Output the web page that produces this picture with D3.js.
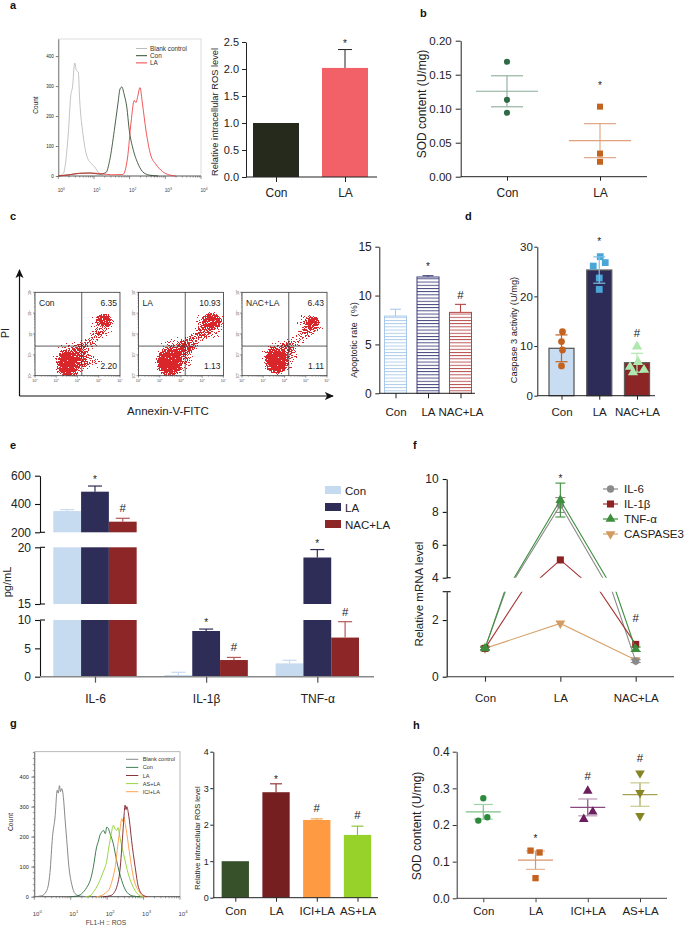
<!DOCTYPE html>
<html><head><meta charset="utf-8">
<script src="https://cdn.jsdelivr.net/npm/d3@7"></script>
<style>
body{margin:0;background:#fff;}
svg{display:block;}
</style></head><body>
<svg id="fig" width="685" height="928"></svg>
<script>
// ================= DATA =================
// Panel a: flow histogram [log10 intensity, count]
const aHistBlank = [[0,0],[0.14,8],[0.28,141],[0.35,269],[0.40,298],[0.46,377],[0.51,352],[0.56,347],[0.60,252],[0.69,141],[0.81,63],[0.93,41],[1.02,30],[1.16,8],[1.35,2],[1.6,0]];
const aHistCon = [[0,0],[0.3,4],[0.6,9],[0.9,10],[1.16,6],[1.34,12],[1.44,52],[1.57,152],[1.67,240],[1.73,290],[1.78,297],[1.85,270],[1.92,230],[1.99,152],[2.08,97],[2.22,45],[2.36,15],[2.55,3],[2.8,0]];
const aHistLA = [[0,0],[0.3,4],[0.6,9],[0.9,10],[1.2,8],[1.5,4],[1.81,5],[1.94,60],[2.04,180],[2.13,252],[2.18,245],[2.22,262],[2.29,295],[2.36,240],[2.46,150],[2.59,70],[2.73,40],[2.92,15],[3.10,4],[3.29,0]];
const aLegend = ["Blank control","Con","LA"];
const aGroups = ["Con","LA"];
const aROS = [1.0, 2.02];
const aROSErr = [0, 0.34];
const aMarks = ["", "*"];
// Panel b
const bGroups = ["Con","LA"];
const bPoints = [[0.169,0.113,0.094],[0.103,0.034,0.022]];
const bMean = [0.1256, 0.053];
const bSEM = [0.0228, 0.025];
const bMarks = ["", "*"];
// Panel c: dot plots
const cSamples = ["Con","LA","NAC+LA"];
const cUpperRight = ["6.35","10.93","6.43"];
const cLowerRight = ["2.20","1.13","1.11"];
const cGate = [2.2, 1.42];
// cluster: [sample, xLog, yLog, rxLog, ryLog, angle, density]
const cClusters = [
  [0,1.55,0.55,0.62,0.78,0,1.0],[0,1.75,0.85,1.0,1.0,0,0.5],[0,3.25,2.65,0.42,0.38,0,0.85],[0,3.15,2.45,0.75,0.7,0,0.45],[0,2.45,1.5,1.35,0.4,-40,0.5],[0,2.6,0.7,0.7,0.4,0,0.45],
  [1,1.45,0.6,0.68,0.8,0,1.0],[1,1.75,0.95,1.1,1.0,-30,0.55],[1,3.45,2.6,0.5,0.45,0,0.92],[1,3.35,2.45,0.85,0.8,0,0.5],[1,2.5,1.6,1.45,0.45,-40,0.58],
  [2,1.6,0.7,0.62,0.75,0,1.0],[2,1.8,0.95,1.0,0.95,0,0.5],[2,3.3,2.55,0.4,0.35,0,0.8],[2,3.2,2.45,0.72,0.65,0,0.45],[2,2.5,1.6,1.35,0.4,-40,0.46]
];
const cRate = [7.9, 11.9, 8.28];
const cRateErr = [0.7, 0.13, 0.82];
const cMarks = ["", "*", "#"];
// Panel d
const dGroups = ["Con","LA","NAC+LA"];
const dMean = [9.54, 25.3, 6.64];
const dErr = [2.7, 2.65, 1.9];
const dPoints = [[12.9,10.9,9.2,6.0],[28.0,26.8,26.1,23.7,21.4],[9.9,6.8,5.8,5.2,4.7]];
const dMarks = ["", "*", "#"];
// Panel e
const eCytokines = ["IL-6","IL-1β","TNF-α"];
const eGroups = ["Con","LA","NAC+LA"];
const eValues = [[350,487,275],[0.3,8.06,2.94],[2.35,19.1,6.9]];
const eErr = [[10,40,24],[0.48,0.34,0.46],[0.55,0.7,2.8]];
const eMarks = [["","*","#"],["","*","#"],["","*","#"]];
const eBreaks = [[0,10],[15,20],[200,600]];
const eTicks = [[0,5,10],[15,20],[200,400,600]];
// Panel f
const fGroups = ["Con","LA","NAC+LA"];
const fSeries = ["IL-6","IL-1β","TNF-α","CASPASE3"];
const fIL6 = [1.0, 8.42, 0.55];
const fIL1b = [1.0, 5.08, 1.14];
const fTNFa = [1.0, 8.72, 0.97];
const fCasp3 = [1.0, 1.88, 0.59];
const fIL6Err = [0.04, 0.45, 0.05];
const fTNFaErr = [0.05, 1.03, 0.08];
const fBreaks = [[0,3],[4,10]];
// Panel g
const gHistBlank = [[0,0],[0.2,3],[0.34,20],[0.43,80],[0.5,200],[0.57,265],[0.63,355],[0.66,345],[0.69,370],[0.72,350],[0.75,360],[0.8,330],[0.84,265],[0.89,190],[0.95,100],[1.03,40],[1.12,10],[1.26,2],[1.5,0]];
const gHistCon = [[1.0,0],[1.16,2],[1.3,10],[1.44,31],[1.55,60],[1.62,98],[1.71,165],[1.76,185],[1.8,204],[1.85,215],[1.9,221],[1.95,210],[1.99,232],[2.04,225],[2.08,210],[2.17,176],[2.26,120],[2.4,54],[2.54,15],[2.72,2],[2.9,0]];
const gHistLA = [[1.9,0],[2.08,3],[2.2,15],[2.26,31],[2.35,87],[2.43,210],[2.47,280],[2.49,305],[2.52,290],[2.54,300],[2.58,280],[2.61,255],[2.67,188],[2.77,98],[2.86,31],[2.99,5],[3.1,0]];
const gHistAS = [[1.4,0],[1.53,3],[1.65,20],[1.8,54],[1.9,85],[1.99,120],[2.04,160],[2.08,188],[2.12,215],[2.17,238],[2.22,225],[2.26,221],[2.3,230],[2.35,198],[2.45,143],[2.58,76],[2.72,31],[2.9,3],[3.0,0]];
const gHistICI = [[1.7,0],[1.8,2],[1.95,12],[2.08,31],[2.15,60],[2.22,98],[2.31,188],[2.36,230],[2.4,260],[2.43,250],[2.46,266],[2.5,240],[2.54,210],[2.63,132],[2.72,65],[2.86,20],[2.99,2],[3.1,0]];
const gLegend = ["Blank control","Con","LA","AS+LA","ICI+LA"];
const gGroups = ["Con","LA","ICI+LA","AS+LA"];
const gROS = [1.0, 2.89, 2.13, 1.72];
const gROSErr = [0, 0.23, 0.03, 0.24];
const gMarks = ["", "*", "#", "#"];
// Panel h
const hGroups = ["Con","LA","ICI+LA","AS+LA"];
const hPoints = [[0.273,0.212,0.221],[0.13,0.125,0.055],[0.293,0.236,0.216],[0.341,0.288,0.225]];
const hMean = [0.236,0.104,0.248,0.283];
const hSEM = [0.02,0.025,0.023,0.032];
const hMarks = ["", "*", "#", "#"];

// ================= HELPERS =================
const FONT = '"Liberation Sans", Arial, Helvetica, sans-serif';
const svg = d3.select('#fig').attr('font-family', FONT);
const defs = svg.append('defs');

function styleAxis(a, fs, color, sw) {
  a.attr('font-family', FONT).attr('font-size', fs);
  a.selectAll('path.domain').attr('stroke', color).attr('stroke-width', sw);
  a.selectAll('.tick line').attr('stroke', color).attr('stroke-width', sw);
  a.selectAll('.tick text').attr('fill', '#222');
  return a;
}
function yAxis(g, scale, x, vals, fmt, fs, ts, pad, color = '#222', sw = 1) {
  const a = g.append('g').attr('transform', `translate(${x},0)`)
    .call(d3.axisLeft(scale).tickValues(vals).tickFormat(fmt).tickSize(ts).tickSizeOuter(0).tickPadding(pad));
  return styleAxis(a, fs, color, sw);
}
function xAxis(g, scale, y, x0, x1, fs, ts, pad, color = '#222', sw = 1) {
  g.append('line').attr('x1', x0).attr('x2', x1).attr('y1', y).attr('y2', y).attr('stroke', color).attr('stroke-width', sw);
  const a = g.append('g').attr('transform', `translate(0,${y})`)
    .call(d3.axisBottom(scale).tickSize(ts).tickSizeOuter(0).tickPadding(pad));
  a.select('path.domain').remove();
  return styleAxis(a, fs, color, sw);
}
function text(g, x, y, s, fs, o = {}) {
  const t = g.append('text').attr('x', x).attr('y', y).attr('font-size', fs)
    .attr('fill', o.fill || '#222').attr('text-anchor', o.anchor || 'start').text(s);
  if (o.bold) t.attr('font-weight', 'bold');
  if (o.rot) t.attr('transform', `rotate(${o.rot},${x},${y})`);
  return t;
}
function ylabel(g, x, y, s, fs) { return text(g, x, y, s, fs, {anchor: 'middle', rot: -90}); }
function sym(g, type, x, y, size, fill, rot) {
  return g.append('path').attr('d', d3.symbol().type(type).size(size)()).attr('fill', fill)
    .attr('transform', `translate(${x},${y})` + (rot ? ` rotate(${rot})` : ''));
}
function vline(g, x, y1, y2, color, sw) {
  g.append('line').attr('x1', x).attr('x2', x).attr('y1', y1).attr('y2', y2).attr('stroke', color).attr('stroke-width', sw);
}
function hline(g, x1, x2, y, color, sw) {
  g.append('line').attr('x1', x1).attr('x2', x2).attr('y1', y).attr('y2', y).attr('stroke', color).attr('stroke-width', sw);
}
function powLabel(g, x, y, e, fs, rot) {
  const t = g.append('text').attr('x', x).attr('y', y).attr('font-size', fs).attr('fill', '#444').attr('text-anchor', 'middle');
  t.append('tspan').text('10');
  t.append('tspan').attr('dy', -fs * 0.45).attr('font-size', fs * 0.7).text(e);
  if (rot) t.attr('transform', `rotate(${rot},${x},${y})`);
}
function logTicks(g, scale, fixed, horizontal, majorLen, minorLen, color) {
  for (let d = 0; d <= 4; d++) {
    const p = scale(d);
    if (horizontal) vline(g, p, fixed, fixed + majorLen, color, 0.6); else hline(g, fixed - majorLen, fixed, p, color, 0.6);
    if (d < 4) for (let k = 2; k <= 9; k++) {
      const q = scale(d + Math.log10(k));
      if (horizontal) vline(g, q, fixed, fixed + minorLen, color, 0.5); else hline(g, fixed - minorLen, fixed, q, color, 0.5);
    }
  }
}
function mark(g, x, y, s) {
  if (s === '*') text(g, x, y, '*', 10, {anchor: 'middle'});
  else if (s === '#') text(g, x, y, '#', 11.5, {anchor: 'middle'});
}
const histLine = (x, y) => d3.line().x(d => x(d[0])).y(d => y(d[1])).curve(d3.curveMonotoneX);

// panel letters
[['a',10,9],['b',420,17],['c',10,220],['d',465,220],['e',10,449],['f',413,449],['g',10,727],['h',413,729]]
  .forEach(([s,x,y]) => text(svg, x, y, s, 11, {bold: true, fill: '#111'}));

// ================= PANEL a =================
{
  const g = svg.append('g');
  const x = d3.scaleLinear().domain([0,4]).range([58.3, 201]);
  const y = d3.scaleLinear().domain([0,457]).range([176, 39]);
  g.append('rect').attr('x',58.3).attr('y',39).attr('width',142.7).attr('height',137).attr('fill','none').attr('stroke','#cfcfcf').attr('stroke-width',0.7);
  yAxis(g, y, 58.3, [0,100,200,300,400], d3.format('d'), 4.5, 2.5, 2, '#444', 0.7);
  hline(g, 58.3, 201, 176, '#444', 0.8);
  logTicks(g, x, 176, true, 3, 1.6, '#444');
  for (let d = 0; d <= 4; d++) powLabel(g, x(d) + 3, 192, String(d), 4.8);
  ylabel(g, 38, 105, 'Count', 6.5);
  const cols = ['#b4b4b4', '#1e3a1e', '#ee2e2e'];
  [aHistBlank, aHistCon, aHistLA].forEach((h, i) =>
    g.append('path').attr('d', histLine(x, y)(h)).attr('fill','none').attr('stroke', cols[i]).attr('stroke-width', 0.8));
  aLegend.forEach((s, i) => {
    hline(g, 136, 147, 48.5 + i * 7.2, cols[i], 0.9);
    text(g, 150, 50.7 + i * 7.2, s, 6.4, {fill: '#333'});
  });
  // bar chart
  const yb = d3.scaleLinear().domain([0, 2.5]).range([177, 42]);
  const xb = d3.scalePoint().domain(aGroups).range([276, 345]);
  yAxis(g, yb, 246, [0,0.5,1,1.5,2,2.5], d3.format('.1f'), 11, 4, 3);
  ylabel(g, 218, 112, 'Relative intracellular ROS level', 9.3);
  const bc = ['#262a1c', '#f26168'];
  aGroups.forEach((k, i) => {
    g.append('rect').attr('x', xb(k) - 23).attr('width', 46).attr('y', yb(aROS[i])).attr('height', 177 - yb(aROS[i])).attr('fill', bc[i]);
    if (aROSErr[i] > 0) {
      vline(g, xb(k), yb(aROS[i]), yb(aROS[i] + aROSErr[i]), '#222', 1);
      hline(g, xb(k) - 7, xb(k) + 7, yb(aROS[i] + aROSErr[i]), '#222', 1);
    }
    mark(g, xb(k), yb(aROS[i] + aROSErr[i]) - 3, aMarks[i]);
  });
  xAxis(g, xb, 177, 246, 377, 12, 5, 6.5);
}

// ================= PANEL b =================
{
  const g = svg.append('g');
  const y = d3.scaleLinear().domain([0, 0.2]).range([176.7, 40.7]);
  const x = d3.scalePoint().domain(bGroups).range([507, 600]);
  yAxis(g, y, 460.7, [0,0.05,0.1,0.15,0.2], d3.format('.2f'), 11.5, 5, 4);
  ylabel(g, 425.5, 104, 'SOD content (U/mg)', 12);
  xAxis(g, x, 176.7, 460.7, 647, 12, 4, 8);
  const pc = ['#2f6a46', '#c4621f'], lc = ['#8aac98', '#e0a07a'];
  const types = [d3.symbolCircle, d3.symbolSquare];
  bGroups.forEach((k, i) => {
    const cx = x(k);
    hline(g, cx - 31, cx + 31, y(bMean[i]), lc[i], 1.1);
    vline(g, cx, y(bMean[i] - bSEM[i]), y(bMean[i] + bSEM[i]), lc[i], 1.1);
    hline(g, cx - 16, cx + 16, y(bMean[i] + bSEM[i]), lc[i], 1.1);
    hline(g, cx - 16, cx + 16, y(bMean[i] - bSEM[i]), lc[i], 1.1);
    bPoints[i].forEach(v => sym(g, types[i], cx, y(v), i ? 36 : 30, pc[i]));
    if (bMarks[i]) mark(g, cx, 89, bMarks[i]);
  });
}

// ================= PANEL c =================
{
  const g = svg.append('g');
  defs.append('marker').attr('id','arrow').attr('viewBox','0 0 10 10').attr('refX',9).attr('refY',5)
    .attr('markerWidth',9).attr('markerHeight',9).attr('markerUnits','userSpaceOnUse').attr('orient','auto')
    .append('path').attr('d','M0,0.5 L10,5 L0,9.5 L2.5,5 Z').attr('fill','#111');
  g.append('line').attr('x1',19.5).attr('y1',396).attr('x2',19.5).attr('y2',270).attr('stroke','#111').attr('stroke-width',1.2).attr('marker-end','url(#arrow)');
  g.append('line').attr('x1',19.5).attr('y1',396).attr('x2',333).attr('y2',396).attr('stroke','#111').attr('stroke-width',1.2).attr('marker-end','url(#arrow)');
  ylabel(g, 9, 333, 'PI', 10.5);
  text(g, 168, 415, 'Annexin-V-FITC', 11.5, {anchor: 'middle'});

  // speckle filter -> dotted density look
  const fl = defs.append('filter').attr('id','speck').attr('filterUnits','userSpaceOnUse')
    .attr('x',0).attr('y',0).attr('width',685).attr('height',928).attr('color-interpolation-filters','sRGB');
  fl.append('feTurbulence').attr('type','fractalNoise').attr('baseFrequency',0.8).attr('numOctaves',2).attr('seed',7).attr('result','noise');
  fl.append('feColorMatrix').attr('in','noise').attr('type','matrix')
    .attr('values','0 0 0 0 0  0 0 0 0 0  0 0 0 0 0  1.8 0 0 0 -0.4').attr('result','na');
  fl.append('feComposite').attr('in','SourceAlpha').attr('in2','na').attr('operator','arithmetic')
    .attr('k1',0).attr('k2',1).attr('k3',1).attr('k4',-0.6).attr('result','sum');
  fl.append('feComponentTransfer').attr('in','sum').attr('result','mask')
    .append('feFuncA').attr('type','discrete').attr('tableValues','0 1');
  fl.append('feFlood').attr('flood-color','#d8262a').attr('result','red');
  fl.append('feComposite').attr('in','red').attr('in2','mask').attr('operator','in');
  const rg = defs.append('radialGradient').attr('id','cgrad');
  rg.append('stop').attr('offset','0').attr('stop-color','#000').attr('stop-opacity',1);
  rg.append('stop').attr('offset','0.55').attr('stop-color','#000').attr('stop-opacity',0.95);
  rg.append('stop').attr('offset','0.8').attr('stop-color','#000').attr('stop-opacity',0.55);
  rg.append('stop').attr('offset','1').attr('stop-color','#000').attr('stop-opacity',0);

  const band = d3.scaleBand().domain(cSamples).range([35, 327]).paddingInner(0.179).paddingOuter(0);
  const top = 292.3, bot = 375.7;
  cSamples.forEach((s, i) => {
    const L = band(s), W = band.bandwidth();
    const xs = d3.scaleLinear().domain([0,4]).range([L, L + W]);
    const ys = d3.scaleLinear().domain([0,4]).range([bot, top]);
    defs.append('clipPath').attr('id', 'cclip' + i).append('rect').attr('x', L).attr('y', top).attr('width', W).attr('height', bot - top);
    const sg = g.append('g').attr('clip-path', `url(#cclip${i})`).append('g').attr('filter', 'url(#speck)');
    cClusters.filter(c => c[0] === i).forEach(c => {
      const cx = xs(c[1]), cy = ys(c[2]);
      sg.append('ellipse').attr('cx', cx).attr('cy', cy)
        .attr('rx', xs(c[3]) - xs(0)).attr('ry', ys(0) - ys(c[4]))
        .attr('transform', `rotate(${c[5]},${cx},${cy})`)
        .attr('fill', 'url(#cgrad)').attr('fill-opacity', c[6]);
    });
    g.append('rect').attr('x', L).attr('y', top).attr('width', W).attr('height', bot - top).attr('fill','none').attr('stroke','#333').attr('stroke-width',0.8);
    vline(g, xs(cGate[0]), top, bot, '#333', 0.8);
    hline(g, L, L + W, ys(cGate[1]), '#333', 0.8);
    text(g, L + 4, 306, s, 8.5);
    text(g, L + W - 3, 306, cUpperRight[i], 8.5, {anchor: 'end'});
    text(g, L + W - 3, 369, cLowerRight[i], 8.5, {anchor: 'end'});
    logTicks(g, xs, bot, true, 2, 1, '#555');
    logTicks(g, ys, L, false, 2, 1, '#555');
    for (let d = 0; d <= 4; d++) {
      powLabel(g, xs(d), 381.5, String(d), 3.6);
      powLabel(g, L - 3.5, ys(d), String(d), 3.6, -90);
    }
  });

  // bar chart: apoptotic rate
  const y = d3.scaleLinear().domain([0, 15]).range([393.3, 246.7]);
  const x = d3.scalePoint().domain(cSamples).range([395.5, 460.5]);
  const col = ['#a9c9ec', '#3b3c78', '#b54444'];
  col.forEach((c, i) => {
    const p = defs.append('pattern').attr('id', 'stripe' + i).attr('patternUnits', 'userSpaceOnUse').attr('width', 6).attr('height', 3.2);
    p.append('rect').attr('width', 6).attr('height', 3.2).attr('fill', '#fff');
    p.append('rect').attr('y', 0).attr('width', 6).attr('height', 0.9).attr('fill', c);
  });
  cSamples.forEach((s, i) => {
    const cx = x(s), v = cRate[i];
    g.append('rect').attr('x', cx - 11).attr('width', 22).attr('y', y(v)).attr('height', 393.3 - y(v))
      .attr('fill', `url(#stripe${i})`).attr('stroke', col[i]).attr('stroke-width', 1);
    vline(g, cx, y(v), y(v + cRateErr[i]), col[i], 1.1);
    hline(g, cx - 5.5, cx + 5.5, y(v + cRateErr[i]), col[i], 1.1);
    mark(g, cx, y(v + cRateErr[i]) - 5.5, cMarks[i]);
  });
  yAxis(g, y, 379.3, [0,5,10,15], d3.format('d'), 12, 4, 3.5);
  ylabel(g, 357, 340, 'Apoptotic rate（%)', 9);
  xAxis(g, x, 393.3, 379.3, 475, 11.5, 5, 9.5);
}

// ================= PANEL d =================
{
  const g = svg.append('g');
  const y = d3.scaleLinear().domain([0, 30]).range([395.7, 246.7]);
  const x = d3.scalePoint().domain(dGroups).range([561.5, 637]);
  const fill = ['#c8dcf2', '#2d2b57', '#8c2525'];
  const pc = ['#c4621f', '#4ba6d8', '#aee8ae'];
  const ec = ['#c4621f', '#7cc0e6', '#aee8ae'];
  const types = [d3.symbolCircle, d3.symbolSquare, d3.symbolTriangle];
  const jit = [[1,0,1,0],[1,6,-6,0,0],[0,1,-7,7,-4]];
  dGroups.forEach((k, i) => {
    const cx = x(k);
    g.append('rect').attr('x', cx - 12.5).attr('width', 25).attr('y', y(dMean[i])).attr('height', 395.7 - y(dMean[i]))
      .attr('fill', fill[i]).attr('stroke', '#5c5c5c').attr('stroke-width', 1.3);
    dPoints[i].forEach((v, j) => sym(g, types[i], cx + jit[i][j], y(v), i === 0 ? 36 : 46, pc[i]));
    vline(g, cx, y(dMean[i] - dErr[i]), y(dMean[i] + dErr[i]), ec[i], 1.2);
    hline(g, cx - 6, cx + 6, y(dMean[i] + dErr[i]), ec[i], 1.2);
    hline(g, cx - 6, cx + 6, y(dMean[i] - dErr[i]), ec[i], 1.2);
    const topPt = y(d3.max(dPoints[i]));
    if (dMarks[i] === '*') mark(g, cx, topPt - 12, '*');
    if (dMarks[i] === '#') mark(g, cx, topPt - 10, '#');
  });
  yAxis(g, y, 537.3, [0,10,20,30], d3.format('d'), 11.5, 3, 1.5);
  ylabel(g, 517, 330, 'Caspase 3 activity (U/mg)', 9.3);
  xAxis(g, x, 395.7, 537.3, 655, 11.5, 4, 7.8);
}

// ================= PANEL e =================
{
  const g = svg.append('g');
  const outer = d3.scaleBand().domain(eCytokines).range([39.4, 372.9]).paddingInner(0.25).paddingOuter(0.125);
  const inner = d3.scaleBand().domain(eGroups).range([0, outer.bandwidth()]);
  const segY = [
    d3.scaleLinear().domain(eBreaks[0]).range([676.7, 620]),
    d3.scaleLinear().domain(eBreaks[1]).range([604, 547.3]),
    d3.scaleLinear().domain(eBreaks[2]).range([532.3, 475.7])
  ];
  const fill = ['#c6daf0', '#2e2d58', '#8d2727'];
  const ecol = ['#c6daf0', '#2e2d58', '#b65858'];
  eCytokines.forEach((c, ci) => {
    eGroups.forEach((grp, gi) => {
      const v = eValues[ci][gi], bx = outer(c) + inner(grp), bw = inner.bandwidth();
      eBreaks.forEach(([lo, hi], si) => {
        if (v > lo) {
          const s = segY[si], yt = s(Math.min(v, hi));
          g.append('rect').attr('x', bx).attr('width', bw).attr('y', yt).attr('height', s(lo) - yt).attr('fill', fill[gi]);
        }
      });
      const si = eBreaks.findIndex(([lo, hi]) => v >= lo && v <= hi);
      const s = segY[si], cx = bx + bw / 2, yt = s(v + eErr[ci][gi]);
      vline(g, cx, s(v), yt, ecol[gi], 1.2);
      hline(g, cx - 7, cx + 7, yt, ecol[gi], 1.2);
      mark(g, cx, yt - (eMarks[ci][gi] === '#' ? 6 : 3), eMarks[ci][gi]);
    });
  });
  segY.forEach((s, si) => yAxis(g, s, 40, eTicks[si], d3.format('d'), 12, 5, 4, '#111', 1.1));
  [[segY[0], 10], [segY[1], 15], [segY[1], 20], [segY[2], 200]].forEach(([s, v]) => hline(g, 40, 45, s(v), '#111', 1.1));
  ylabel(g, 11, 582, 'pg/mL', 11);
  const xc = d3.scalePoint().domain(eCytokines).range([outer('IL-6') + outer.bandwidth() / 2, outer('TNF-α') + outer.bandwidth() / 2]);
  const ax = xAxis(g, xc, 676.7, 40, 374, 12, 6, 11.5, '#8a8a8a', 1.4);
  ax.selectAll('.tick line').attr('stroke', '#555').attr('stroke-width', 1.2);
  eGroups.forEach((s, i) => {
    g.append('rect').attr('x', 325).attr('y', 486 + i * 17).attr('width', 16).attr('height', 8).attr('fill', fill[i]);
    text(g, 345, 494.5 + i * 17, s, 11.5);
  });
}

// ================= PANEL f =================
{
  const g = svg.append('g');
  const x = d3.scalePoint().domain(fGroups).range([485, 635.7]);
  const segY = [d3.scaleLinear().domain(fBreaks[0]).range([676.7, 591.7]), d3.scaleLinear().domain(fBreaks[1]).range([577.7, 479])];
  defs.append('clipPath').attr('id','fclip0').append('rect').attr('x',447).attr('y',591.7).attr('width',235).attr('height',100);
  defs.append('clipPath').attr('id','fclip1').append('rect').attr('x',447).attr('y',440).attr('width',235).attr('height',137.7);
  yAxis(g, segY[0], 446.7, [0,2], d3.format('d'), 12, 4, 4, '#111', 1.1);
  yAxis(g, segY[1], 446.7, [4,6,8,10], d3.format('d'), 12, 4, 4, '#111', 1.1);
  hline(g, 442.7, 450.7, segY[0](3), '#111', 1.1);
  hline(g, 446.7, 450.7, segY[1](4), '#111', 1.1);
  ylabel(g, 423, 594, 'Relative mRNA level', 11.5);
  xAxis(g, x, 676.7, 446.7, 674, 11.5, 5, 12.5, '#333', 1.1);
  const vals = [fIL6, fIL1b, fTNFa, fCasp3];
  const cols = ['#8a8a8a', '#8e2222', '#3d8f3d', '#d19b62'];
  const lcols = ['#8a8a8a', '#a83434', '#3d8f3d', '#d6a46e'];
  const types = [d3.symbolCircle, d3.symbolSquare, d3.symbolTriangle, d3.symbolTriangle];
  const sizes = [42, 50, 42, 42];
  const rots = [0, 0, 0, 180];
  const errs = [fIL6Err, null, fTNFaErr, null];
  [3, 0, 1, 2].forEach(k => {
    [0, 1].forEach(si => {
      g.append('path').attr('clip-path', `url(#fclip${si})`)
        .attr('d', d3.line().x((v, i) => x(fGroups[i])).y(v => segY[si](v))(vals[k]))
        .attr('fill', 'none').attr('stroke', lcols[k]).attr('stroke-width', 1.1);
    });
    vals[k].forEach((v, i) => {
      const s = v <= 3 ? segY[0] : segY[1];
      if (errs[k]) {
        const e = errs[k][i];
        vline(g, x(fGroups[i]), s(v - e), s(v + e), cols[k], 1.1);
        hline(g, x(fGroups[i]) - 5, x(fGroups[i]) + 5, s(v + e), cols[k], 1.1);
        hline(g, x(fGroups[i]) - 5, x(fGroups[i]) + 5, s(v - e), cols[k], 1.1);
      }
      sym(g, types[k], x(fGroups[i]), s(v), sizes[k], cols[k], rots[k]);
    });
  });
  mark(g, x('LA'), segY[1](fTNFa[1] + fTNFaErr[1]) - 1.5, '*');
  mark(g, x('NAC+LA'), 622, '#');
  fSeries.forEach((s, k) => {
    const yy = 489 + k * 15;
    hline(g, 603, 618, yy, lcols[k], 1.2);
    sym(g, types[k], 610.5, yy, sizes[k], cols[k], rots[k]);
    text(g, 624, yy + 4.2, s, 11.5);
  });
}

// ================= PANEL g =================
{
  const g = svg.append('g');
  const x = d3.scaleLinear().domain([0,4]).range([34.3, 180]);
  const y = d3.scaleLinear().domain([0,483]).range([896.7, 751.7]);
  g.append('rect').attr('x',34.3).attr('y',751.7).attr('width',145.7).attr('height',145).attr('fill','none').attr('stroke','#a8a8a8').attr('stroke-width',0.8);
  yAxis(g, y, 34.3, [0,100,200,300,400], d3.format('d'), 5.5, 3, 2.5, '#444', 0.7);
  d3.range(0, 481, 20).forEach(v => hline(g, 32.8, 34.3, y(v), '#444', 0.5));
  hline(g, 34.3, 180, 896.7, '#444', 0.8);
  logTicks(g, x, 896.7, true, 3, 1.6, '#444');
  for (let d = 0; d <= 4; d++) powLabel(g, x(d) + 3, 916, String(d), 6);
  ylabel(g, 13, 822, 'Count', 6.8);
  text(g, 106, 925, 'FL1-H :: ROS', 6.7, {anchor: 'middle', fill: '#444'});
  const cols = ['#7a7a7a', '#2d6e3e', '#7b1e28', '#8dd12b', '#ff9a3c'];
  [gHistBlank, gHistCon, gHistAS, gHistICI, gHistLA].forEach((h, i) => {
    const ci = [0, 1, 3, 4, 2][i];
    g.append('path').attr('d', histLine(x, y)(h)).attr('fill','none').attr('stroke', cols[ci]).attr('stroke-width', 0.9);
  });
  gLegend.forEach((s, i) => {
    hline(g, 126, 138.3, 759.3 + i * 8.1, cols[i], 0.9);
    text(g, 142.7, 761.3 + i * 8.1, s, 5.6, {fill: '#333'});
  });
  // bars
  const yb = d3.scaleLinear().domain([0,4]).range([897.7, 751.7]);
  const xb = d3.scalePoint().domain(gGroups).range([235.3, 357.5]);
  const bc = ['#37522a', '#761f20', '#fd9a42', '#96d22a'];
  const ecs = ['#37522a', '#8a2a2a', '#f0a050', '#86c028'];
  gGroups.forEach((k, i) => {
    const cx = xb(k), v = gROS[i];
    g.append('rect').attr('x', cx - 13.65).attr('width', 27.3).attr('y', yb(v)).attr('height', 897.7 - yb(v)).attr('fill', bc[i]);
    if (gROSErr[i] > 0) {
      vline(g, cx, yb(v), yb(v + gROSErr[i]), ecs[i], 1.1);
      hline(g, cx - 6, cx + 6, yb(v + gROSErr[i]), ecs[i], 1.1);
    }
    if (gMarks[i] === '*') mark(g, cx, yb(v + gROSErr[i]) - 1, '*');
    if (gMarks[i] === '#') mark(g, cx, yb(v + gROSErr[i]) - 7, '#');
  });
  yAxis(g, yb, 213.3, [0,1,2,3,4], d3.format('d'), 9, 3, 1.5);
  ylabel(g, 200, 838, 'Relative intracellular ROS level', 7.5);
  xAxis(g, xb, 897.7, 213.3, 378, 11.5, 4, 4.8);
}

// ================= PANEL h =================
{
  const g = svg.append('g');
  const y = d3.scaleLinear().domain([0, 0.4]).range([898.3, 751.7]);
  const x = d3.scalePoint().domain(hGroups).range([483.3, 640]);
  yAxis(g, y, 456.7, [0,0.1,0.2,0.3,0.4], d3.format('.1f'), 12, 4, 3, '#333', 1);
  ylabel(g, 421, 826, 'SOD content (U/mg)', 12);
  xAxis(g, x, 898.3, 456.7, 667, 11.5, 4, 4.2, '#444', 1);
  const pc = ['#2c8a3c', '#c4621f', '#6a1e5e', '#858523'];
  const lc = ['#7cbf88', '#dc946a', '#8a4a80', '#a3a350'];
  const cc = ['#9fd0a8', '#e8b494', '#b895b2', '#c9c98f'];
  const types = [d3.symbolCircle, d3.symbolSquare, d3.symbolTriangle, d3.symbolTriangle];
  const rots = [0, 0, 0, 180];
  const jit = [[0,-5,4],[-5,4,0],[0,5,-4],[0,0,0]];
  hGroups.forEach((k, i) => {
    const cx = x(k);
    hline(g, cx - 17.5, cx + 17.5, y(hMean[i]), lc[i], 1.2);
    vline(g, cx, y(hMean[i] - hSEM[i]), y(hMean[i] + hSEM[i]), lc[i], 1.2);
    hline(g, cx - 9.5, cx + 9.5, y(hMean[i] + hSEM[i]), cc[i], 1.2);
    hline(g, cx - 9.5, cx + 9.5, y(hMean[i] - hSEM[i]), cc[i], 1.2);
    hPoints[i].forEach((v, j) => sym(g, types[i], cx + jit[i][j], y(v), i === 0 ? 32 : 40, pc[i], rots[i]));
    const topPt = y(d3.max(hPoints[i]));
    if (hMarks[i] === '*') mark(g, cx, topPt - 9, '*');
    if (hMarks[i] === '#') mark(g, cx, topPt - 11, '#');
  });
}
</script></body></html>
